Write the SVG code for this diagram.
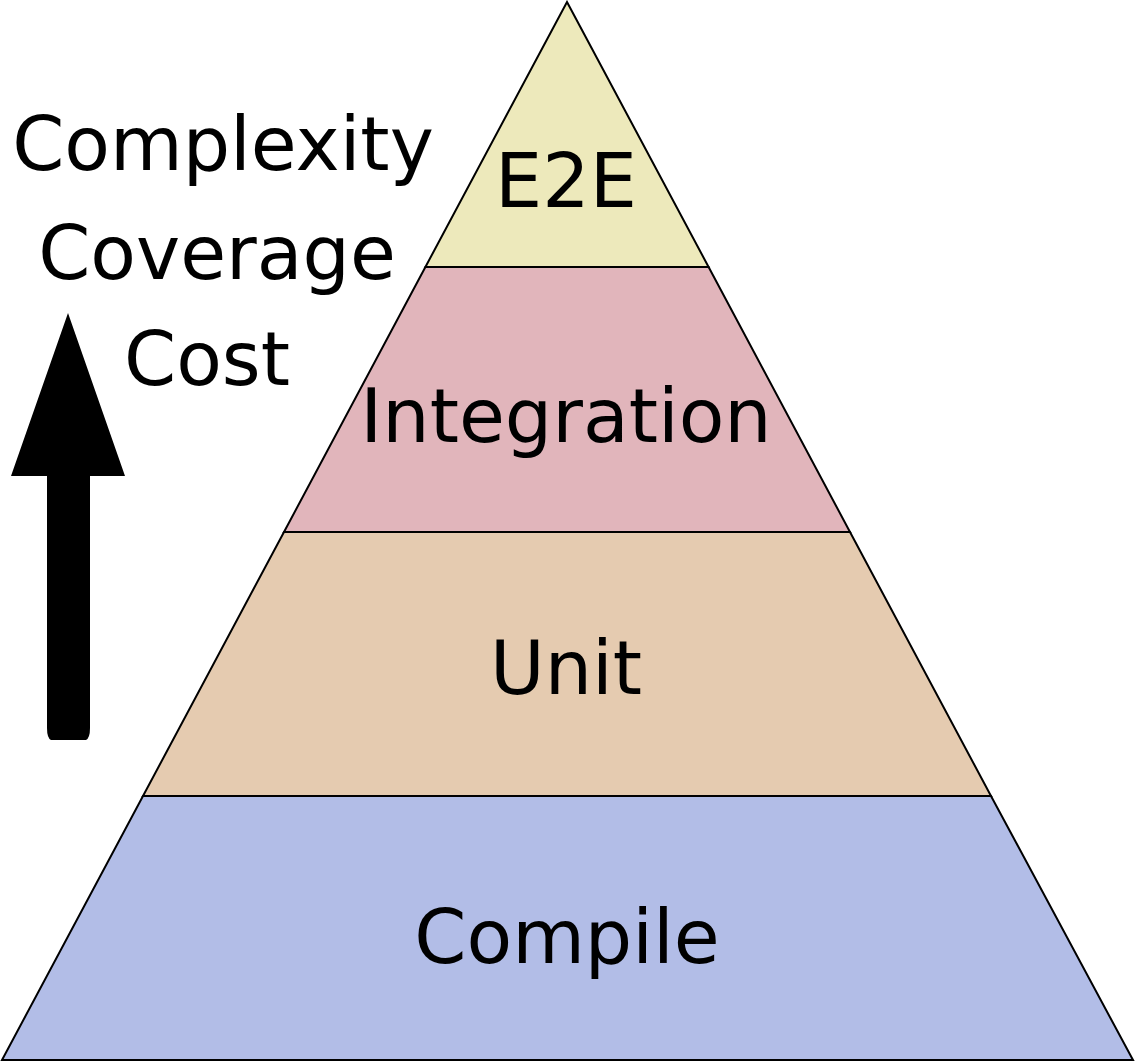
<svg xmlns="http://www.w3.org/2000/svg" width="1135" height="1062" viewBox="0 0 1135 1062">
<style>
.layer{stroke:#000;stroke-width:2;stroke-linejoin:miter}
.lbl{font-family:"DejaVu Sans",sans-serif;font-size:74.67px;fill:#000;text-anchor:middle}
</style>
<rect width="1135" height="1062" fill="#fff"/>
<g id="e2e">
<polygon class="layer" points="567,2 708.6,267 425.4,267" fill="#ede9bb"/>
<text class="lbl" x="566" y="207">E2E</text>
</g>
<g id="integration">
<polygon class="layer" points="425.4,267 708.6,267 850,532 284,532" fill="#e1b5bb"/>
<text class="lbl" x="566" y="442">Integration</text>
</g>
<g id="unit">
<polygon class="layer" points="284,532 850,532 991,796 143,796" fill="#e5cbb0"/>
<text class="lbl" x="566" y="694">Unit</text>
</g>
<g id="compile">
<polygon class="layer" points="143,796 991,796 1133,1060 2,1060" fill="#b2bde7"/>
<text class="lbl" x="567" y="963">Compile</text>
</g>
<g id="axis">
<path d="M68,313 L125,476 L90,476 L90,728 Q90,738 86,740 L51,740 Q47,738 47,728 L47,476 L11,476 Z" fill="#000"/>
<text class="lbl" x="223" y="170">Complexity</text>
<text class="lbl" x="217" y="279">Coverage</text>
<text class="lbl" x="207" y="385">Cost</text>
</g>
<g id="connectors"/>
</svg>
